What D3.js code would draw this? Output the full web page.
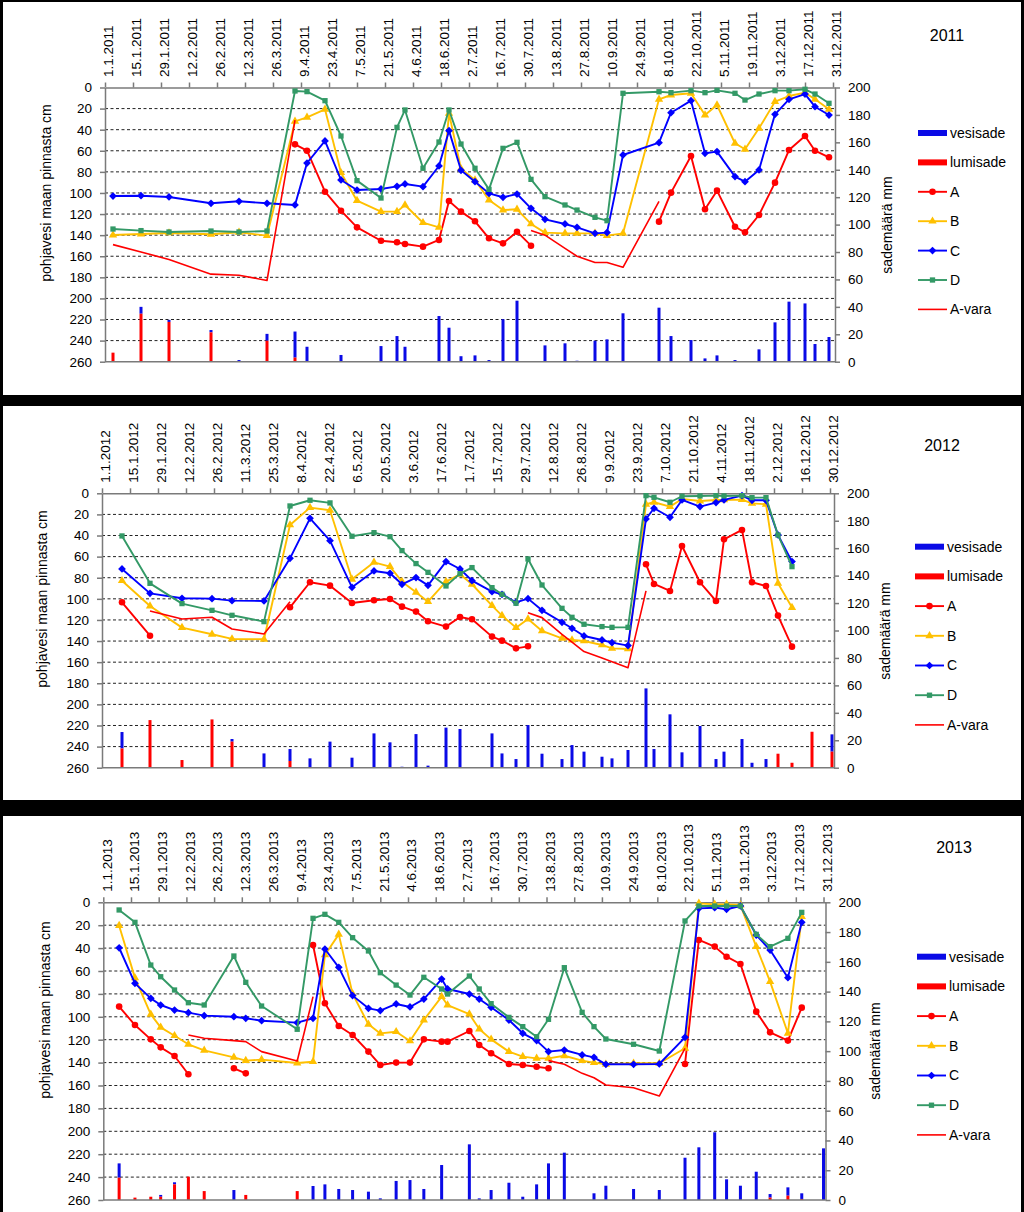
<!DOCTYPE html>
<html><head><meta charset="utf-8">
<script src="https://cdn.jsdelivr.net/npm/d3@7"></script>
<style>
body{margin:0;background:#000}
svg{display:block}
text{font-family:"Liberation Sans",Arial,sans-serif;fill:#000}
</style>
</head><body>
<svg id="chart" width="1024" height="1212"></svg>
<script>
// ---------- labels & ticks ----------
const legendLabels = ["vesisade","lumisade","A","B","C","D","A-vara"];
const depthTicks = d3.range(0, 261, 20);     // left axis (cm)
const precipTicks = d3.range(0, 201, 20);    // right axis (mm)
const dateTickOffsets = d3.range(0, 365, 14); // every 14 days from 1.1.
const leftTitle = "pohjavesi maan pinnasta cm";
const rightTitle = "sademäärä mm";

// ---------- 2011 (day = days since 1 January) ----------
const days2011 = [4,18,32,53,67,81,95,101,110,118, 126,138,146,150,159,167,172,178,185,192, 199,206,213,220,230,236,245,251,259,277, 283,293,300,306,315,320,327,335,342,350, 355,362];
const A2011 = [null,null,null,null,null,null,53.9,59.9,98.8,116.8, 132.6,145.3,146.8,148.4,150.9,144.6,107.6,117.7,126.9,143.0, 147.8,136.7,150.0,null,null,null,null,null,null,127.2, 99.7,64.9,115.5,97.8,132.0,137.3,120.9,90.2,59.3,46.0, 59.9,66.2];
const B2011 = [139.9,138.9,137.9,139.2,137.3,140.5,32.1,28.3,20.7,80.8, 107.3,117.7,117.7,111.4,128.2,132.6,24.5,77,87.7,106.7, 116.2,115.5,129.4,137.6,138.3,138.3,138.3,140.5,138.3,11.2, 7.1,5.5,26.1,16.6,52.9,58.6,38.7,13.4,8.1,4.9, 11.2,20.7];
const C2011 = [102.9,102.6,103.8,109.8,107.9,109.8,111.4,71.6,50.7,87.7, 97.2,96.2,93.7,91.5,94.0,74.4,40.9,78.5,89.3,100.4, 104.1,101.0,114.6,125.0,129.4,132.6,138.3,137.6,64.0,52.3, 23.9,12.5,62.4,60.8,84.5,89.3,78.2,25.4,11.2,6.2, 18.2,26.1];
const D2011 = [134.2,135.7,137.0,136.1,137.0,136.1,3.3,3.9,12.5,46.0, 88.3,104.8,37.8,21.3,76.6,51.7,21.3,53.6,76.6,96.6, 57.7,52.0,87.1,103.5,111.4,116.2,123.1,126.3,5.5,4.0, 4.9,3.0,4.9,2.7,5.5,11.9,6.2,3.0,3.0,1.7, 6.2,15.0];
const Avara2011 = [149,156,163,177,178,183,31,null,null,null, null,null,null,null,null,null,null,null,null,null, null,null,135.5,140,152.5,160,166,166,170.5,108, null,null,null,null,null,null,null,null,null,null, null,null];
const rain2011 = [0,5,1.5,1.7,1.2,5,19,10.9,0.5,4.9, 0.5,11.4,18.7,10.9,0,33.3,24.8,4,4.6,1.2, 31,44.5,0,11.9,13.4,0.7,15.3,16.3,35.3,39.4, 18.7,15.8,2.4,4.6,1.2,0.5,9,28.7,43.8,42.5, 12.9,18];
const snow2011 = [6.6,35,29,21.4,0,15.3,3,0,0,0, 0,0,0,0,0,0,0,0,0,0, 0,0,0,0,0,0,0,0,0,0, 0,0,0,0,0,0,0,0,0,0, 0,0];

// ---------- 2012 ----------
const days2012 = [10,24,40,55,65,81,94,104,114,125, 136,144,150,157,163,172,179,185,195,200, 207,213,220,230,235,241,250,255,263,272, 276,284,290,299,307,311,320,325,332,338, 345,355,365];
const A2012 = [103.3,134.9,null,null,null,null,108.0,84.3,87.5,103.9, 101.4,100.1,107.4,112.1,121.3,126.3,117.2,119.4,135.8,139.6, 146.9,145.0,null,null,null,null,null,null,null,67.3, 85.9,92.5,49.9,84.3,102.0,43.6,34.7,84.3,87.8,115.9, 145.3,null,null];
const B2012 = [82.8,106.8,127.3,133.6,138.0,138.3,30.0,13.6,16.1,81.5, 65.4,69.5,83.7,93.8,102.7,83.7,76.8,86.2,106.4,115.9, 127.3,119.1,130.4,137.4,139.0,139.9,143.7,146.9,147.5,10.4, 8.5,12.6,5.4,7.3,6.3,6.3,6.0,9.5,10.4,85.3, 108.3,null,null];
const C2012 = [71.7,94.8,99.5,99.8,101.7,102.0,61.6,23.7,44.9,89.1, 73.6,75.8,86.2,79.9,87.2,64.7,71.7,82.8,93.2,95.7, 103.3,99.8,110.9,122.2,127.9,135.2,139.0,141.5,144.3,24.3, 14.2,22.7,6.3,12.6,8.8,6.3,2.2,6.6,6.6,39.5, 64.7,null,null];
const D2012 = [40.4,85.3,104.5,110.9,115.6,121.6,12.0,6.6,9.1,40.7, 37.3,41.1,54.3,66.6,74.9,87.8,76.1,70.4,89.4,95.7, 104.2,62.2,86.9,109.0,117.5,124.1,126.3,127.0,127.0,2.2, 3.8,8.5,2.8,2.5,2.2,2.5,2.2,4.1,4.1,39.5, 69.5,null,null];
const Avara2012 = [null,111.5,119.1,117.5,128.6,133.3,102.7,null,null,null, null,null,null,null,null,null,null,null,null,null, null,113.1,117.8,133.6,141,150,156,159.5,165.2,92.5, null,null,null,null,null,null,null,null,null,null, null,null,null];
const rain2012 = [12,0,0,0,1.9,10.4,8.7,6.8,19,7.3, 25,18.5,0.7,24.5,1.5,29.2,28.2,0,25,10.4, 6.3,31.1,10.2,6.3,16.5,11.7,8,6.8,12.9,57.8, 13.6,38.9,11.2,30.4,6.3,11.7,20.9,3.6,6.3,0, 0,0,12.6];
const snow2012 = [14,34.7,5.6,35.2,19,0,4.9,0,0,0, 0,0,0,0,0,0,0,0,0,0, 0,0,0,0,0,0,0,0,0,0, 0,0,0,0,0,0,0,0,0,10.2, 3.6,26.2,11.7];

// ---------- 2013 ----------
const days2013 = [8,16,24,29,36,43,51,66,72,80, 98,106,112,119,126,134,140,148,155,162, 171,174,185,190,196,205,212,219,225,233, 242,248,254,268,281,294,301,309,315,322, 330,337,346,353,364];
const A2013 = [91.1,107.2,119.7,126.7,134.2,150.2,null,145.0,149.4,null, null,37.3,88.2,108.0,115.9,130.4,142.1,140.0,140.0,119.7, 121.7,121.7,112.4,124.6,131.9,141.2,142.1,143.6,145.0,null, null,null,null,null,null,141.2,32.9,38.7,47.5,53.9, 95.5,113.6,120.8,92.0,null];
const B2013 = [20.4,66,97.9,109.2,116.5,124.0,129.3,135.4,138.3,137.4, 140.4,139.2,46.0,28.0,80,106.6,114.5,113.0,121.1,102.8, 82.4,89.7,97.6,110.7,119.7,130.4,134.8,136.3,136.3,134.0, 138.3,140.0,141.5,140.6,140.6,127.5,0.9,1.8,1.8,2.4, 38.7,69.3,114.4,12.5,null];
const C2013 = [39.7,70.8,83.9,89.7,94.1,96.4,99.0,99.9,101.3,103.4, 105.1,101.3,40.8,56.8,81.5,92.6,94.6,88.8,91.4,84.5, 67.0,75.7,80.1,84.5,91.7,102.8,114.4,120.8,130.4,129.0, 133.3,135.4,141.5,141.5,141.2,117.9,5.3,4.7,6.1,3.2, 28.6,41.7,65.8,17.5,null];
const D2013 = [6.7,17.5,54.8,65.0,76.6,87.7,89.7,46.9,69.9,90.6, 110.9,14.0,10.5,17.5,30.9,42.5,61.5,72.3,81.0,65.5, 75.7,80.1,64.4,75.7,88.5,100.5,108.6,117.4,102.2,57.1, 96.1,108.6,119.4,124.0,129.9,16.3,3.2,3.2,3.2,3.2, 28.0,38.7,31.5,8.8,null];
const Avara2013 = [null,null,null,null,null,115.9,118.8,120.8,121.7,130.4, 138.6,82.4,null,null,null,null,null,null,null,null, null,null,null,null,null,null,null,null,138.3,141.5, 149.4,153.2,159.6,161.9,169.2,127.5,null,null,null,null, null,null,null,null,null];
const rain2013 = [9.6,0,0,1.2,1.4,0,0,6.7,0,0, 0,9.4,10.5,7.4,6.7,5.6,1.1,12.8,13.4,7.4, 23.5,0,37.4,1.1,6.7,11.6,2.2,10.5,24.6,31.8, 0,4.5,9.6,7.4,6.7,28.4,35.4,45.5,13.9,9.6, 19.0,2.4,5.6,3.8,34.7];
const snow2013 = [15,1.6,2.2,2.2,10.5,15.7,6.0,0,3.4,0, 6.0,0,0,0,0,0,0,0,0,0, 0,0,0,0,0,0,0,0,0,0, 0,0,0,0,0,0,0,0,0,0, 0,1.6,2.9,0.7,0];

// ---------- styles ----------
const colA = "#FF0000", colB = "#FFC000", colC = "#0000FF", colD = "#339966";
const colRain = "#0A0AE6", colSnow = "#FF0000";

const panels = [
  {year:2011, days:days2011, A:A2011, B:B2011, C:C2011, D:D2011, V:Avara2011, rain:rain2011, snow:snow2011,
   box:[3,2,1018,393], l:105, r:835, t:87.5, b:361.7, yearPos:[947,41],
   legX:918, legY:133, legDy:29.4, lt:[46,193], rt:[887,225]},
  {year:2012, days:days2012, A:A2012, B:B2012, C:C2012, D:D2012, V:Avara2012, rain:rain2012, snow:snow2012,
   box:[3,406,1018,394], l:102, r:834, t:493.3, b:767.7, yearPos:[942,451],
   legX:915, legY:546.7, legDy:29.7, lt:[42.5,599], rt:[885,631]},
  {year:2013, days:days2013, A:A2013, B:B2013, C:C2013, D:D2013, V:Avara2013, rain:rain2013, snow:snow2013,
   box:[3,816,1018,396], l:103.3, r:825.5, t:902.3, b:1200, yearPos:[954,853],
   legX:917, legY:956.7, legDy:29.7, lt:[44.7,1010], rt:[875,1051]}
];

const svg = d3.select("#chart");
svg.append("rect").attr("width",1024).attr("height",1212).attr("fill","#000");

const sym = {
  A: d3.symbol().type(d3.symbolCircle).size(34),
  B: d3.symbol().type(d3.symbolTriangle).size(30),
  C: d3.symbol().type(d3.symbolSquare).size(30),
  D: d3.symbol().type(d3.symbolSquare).size(28)
};
const symRot = {A:0, B:0, C:45, D:0};
const dateFmt = d3.utcFormat("%-d.%-m.%Y");

function drawPanel(p) {
  const g = svg.append("g");
  g.append("rect").attr("x",p.box[0]).attr("y",p.box[1]).attr("width",p.box[2]).attr("height",p.box[3]).attr("fill","#fff");
  const Y = p.year;
  const toDate = d => new Date(Date.UTC(Y,0,1+d));
  const x = d3.scaleUtc().domain([new Date(Date.UTC(Y,0,1)), new Date(Date.UTC(Y+1,0,1))]).range([p.l, p.r]);
  const yDepth = d3.scaleLinear().domain([0,260]).range([p.t, p.b]);
  const yPrec = d3.scaleLinear().domain([0,200]).range([p.b, p.t]);

  // gridlines
  g.append("g").selectAll("line").data(depthTicks.filter(v => v > 0 && v < 260)).join("line")
    .attr("x1",p.l).attr("x2",p.r).attr("y1",d=>yDepth(d)).attr("y2",d=>yDepth(d))
    .attr("stroke","#222").attr("stroke-width",1).attr("stroke-dasharray","3,2.5");

  // bars (snow at bottom, rain stacked on top)
  const bw = 3;
  const bars = p.days.map((d,i)=>({dt:toDate(d), snow:p.snow[i], rain:p.rain[i]}));
  g.append("g").selectAll("rect").data(bars.filter(b=>b.rain>0)).join("rect")
    .attr("x",b=>x(b.dt)-bw/2).attr("width",bw)
    .attr("y",b=>yPrec(b.snow+b.rain)).attr("height",b=>yPrec(b.snow)-yPrec(b.snow+b.rain))
    .attr("fill",colRain);
  g.append("g").selectAll("rect").data(bars.filter(b=>b.snow>0)).join("rect")
    .attr("x",b=>x(b.dt)-bw/2).attr("width",bw)
    .attr("y",b=>yPrec(b.snow)).attr("height",b=>yPrec(0)-yPrec(b.snow))
    .attr("fill",colSnow);

  // axes
  const axCol = "#7a7a7a";
  const styleAxis = sel => {
    sel.selectAll("path,line").attr("stroke",axCol).attr("stroke-width",1.5);
    sel.selectAll("text").attr("font-size","13.5px").attr("font-family",'"Liberation Sans",Arial,sans-serif').attr("fill","#000");
  };
  g.append("g").attr("transform",`translate(${p.l},0)`)
    .call(d3.axisLeft(yDepth).tickValues(depthTicks).tickSize(5).tickSizeOuter(0).tickPadding(8))
    .call(styleAxis);
  g.append("g").attr("transform",`translate(${p.r},0)`)
    .call(d3.axisRight(yPrec).tickValues(precipTicks).tickSize(5).tickSizeOuter(0).tickPadding(8))
    .call(styleAxis);
  const top = g.append("g").attr("transform",`translate(0,${p.t})`)
    .call(d3.axisTop(x).tickValues(dateTickOffsets.map(toDate)).tickFormat(dateFmt).tickSize(5).tickSizeOuter(0))
    .call(styleAxis);
  top.selectAll(".tick text").attr("transform","rotate(-90)").attr("x",10.5).attr("y",0)
    .attr("dy","0.58em").attr("text-anchor","start");
  g.append("line").attr("x1",p.l).attr("x2",p.r).attr("y1",p.b).attr("y2",p.b)
    .attr("stroke",axCol).attr("stroke-width",1.5);

  // lines
  const series = [
    {key:"A", vals:p.A, col:colA, marker:true},
    {key:"B", vals:p.B, col:colB, marker:true},
    {key:"C", vals:p.C, col:colC, marker:true},
    {key:"D", vals:p.D, col:colD, marker:true},
    {key:"V", vals:p.V, col:colA, marker:false}
  ];
  const line = d3.line().defined(d=>d.v!=null).x(d=>x(d.dt)).y(d=>yDepth(d.v));
  series.forEach(s=>{
    const pts = p.days.map((d,i)=>({dt:toDate(d), v:s.vals[i]}));
    g.append("path").datum(pts).attr("d",line).attr("fill","none")
      .attr("stroke",s.col).attr("stroke-width",s.marker?1.9:1.6).attr("stroke-linejoin","round");
    if (s.marker) {
      g.append("g").selectAll("path").data(pts.filter(d=>d.v!=null)).join("path")
        .attr("d",sym[s.key]())
        .attr("transform",d=>`translate(${x(d.dt)},${yDepth(d.v)}) rotate(${symRot[s.key]})`)
        .attr("fill",s.col);
    }
  });

  // titles
  g.append("text").attr("transform",`translate(${p.lt[0]},${p.lt[1]}) rotate(-90)`)
    .attr("text-anchor","middle").attr("dy","0.35em").attr("font-size","14px").text(leftTitle);
  g.append("text").attr("transform",`translate(${p.rt[0]},${p.rt[1]}) rotate(-90)`)
    .attr("text-anchor","middle").attr("dy","0.35em").attr("font-size","14px").text(rightTitle);
  g.append("text").attr("x",p.yearPos[0]).attr("y",p.yearPos[1]).attr("text-anchor","middle")
    .attr("font-size","16px").text(String(Y));

  // legend
  const leg = g.append("g");
  legendLabels.forEach((lab,i)=>{
    const y = p.legY + i*p.legDy;
    const lx = p.legX;
    if (i < 2) {
      leg.append("rect").attr("x",lx).attr("y",y-3).attr("width",29).attr("height",6)
        .attr("fill", i===0 ? colRain : colSnow);
    } else {
      const key = ["A","B","C","D","V"][i-2];
      const col = {A:colA,B:colB,C:colC,D:colD,V:colA}[key];
      leg.append("line").attr("x1",lx).attr("x2",lx+29).attr("y1",y).attr("y2",y)
        .attr("stroke",col).attr("stroke-width",key==="V"?1.6:1.9);
      if (key !== "V") {
        leg.append("path").attr("d",sym[key]())
          .attr("transform",`translate(${lx+14.5},${y}) rotate(${symRot[key]})`).attr("fill",col);
      }
    }
    leg.append("text").attr("x",lx+32).attr("y",y).attr("dy","0.35em").attr("font-size","14px").text(lab);
  });
}
panels.forEach(drawPanel);
</script>
</body></html>
